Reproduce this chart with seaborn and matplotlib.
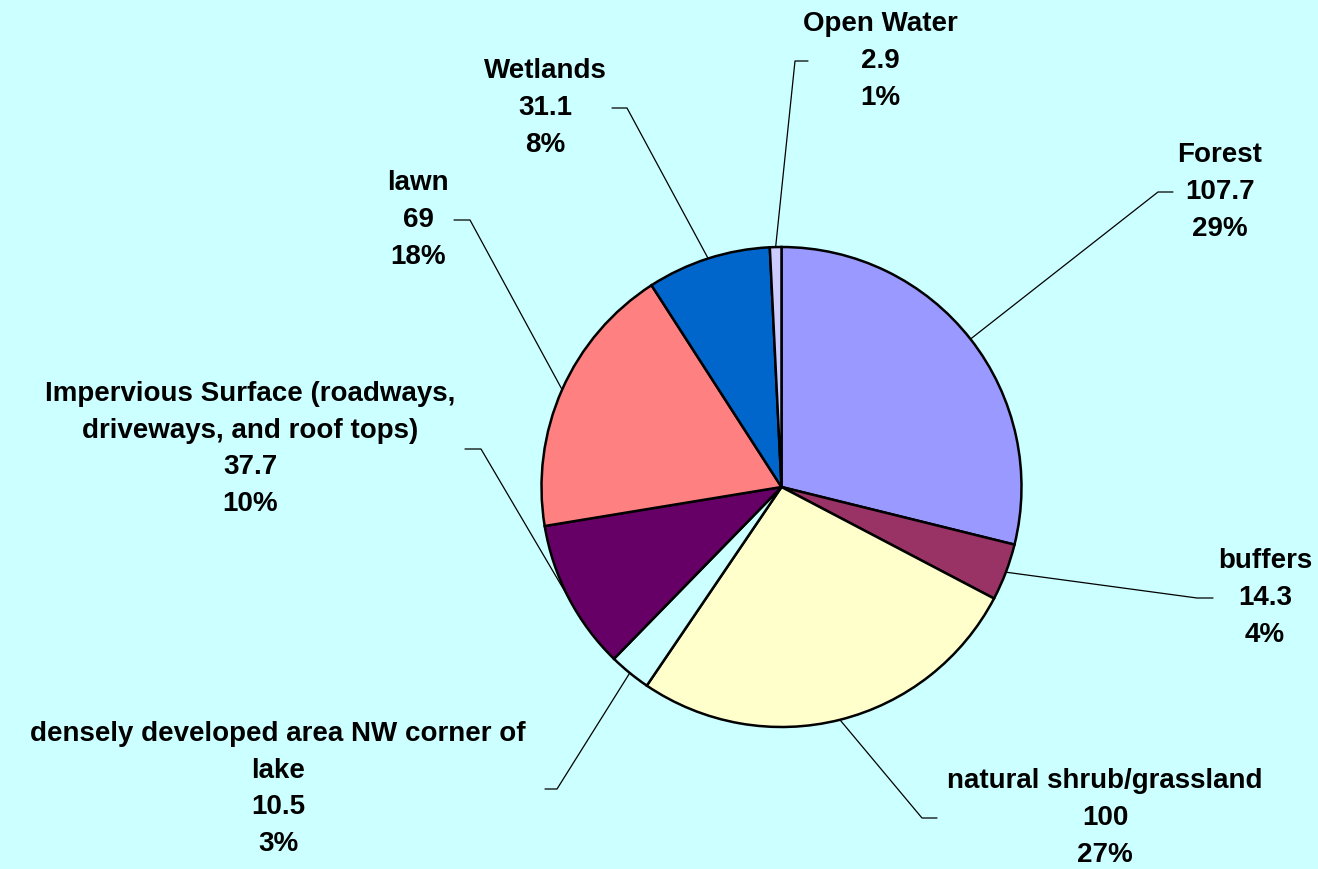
import matplotlib
matplotlib.use("Agg")
import matplotlib.pyplot as plt
import seaborn as sns
import numpy as np

categories = ["Forest", "buffers", "natural shrub/grassland",
              "densely developed area NW corner of\nlake",
              "Impervious Surface (roadways,\ndriveways, and roof tops)",
              "lawn", "Wetlands", "Open Water"]
values = [107.7, 14.3, 100, 10.5, 37.7, 69, 31.1, 2.9]
colors = ["#9999FF", "#993366", "#FFFFCC", "#CCFFFF",
          "#660066", "#FF8080", "#0066CC", "#CCCCFF"]

# label placement (pixel coords of text centre, elbow x, horizontal end x)
label_pos = [(1220, 192), (1265, 598), (1105, 818), (278, 789),
             (250, 449), (418, 220), (545, 108), (880, 61)]
elbow_x = [1158, 1197, 922, 557, 481, 470, 627, 795]
hend_x = [1173, 1213, 937, 545, 465, 454, 612, 808]

sns.set_theme(style="white")
plt.rcParams['font.family'] = ['Liberation Sans', 'DejaVu Sans']

W, H = 1318, 869
BG = "#CCFFFF"
fig = plt.figure(figsize=(W / 100, H / 100), dpi=100, facecolor=BG)
cx, cy, R = 781.5, 487, 240
ax = fig.add_axes([(cx - R) / W, (H - cy - R) / H, 2 * R / W, 2 * R / H])
ax.set_facecolor(BG)
ax.axis("off")

wedges, _ = ax.pie(values, colors=colors, startangle=90, counterclock=False,
                   radius=1.0,
                   wedgeprops=dict(edgecolor="black", linewidth=1.8))
ax.set_xlim(-1, 1)
ax.set_ylim(-1, 1)
ax.set_aspect("equal")

total = sum(values)


def to_data(px, py):
    return (px - cx) / R, (cy - py) / R


for i, w in enumerate(wedges):
    mid = np.deg2rad((w.theta1 + w.theta2) / 2)
    ex, ey = np.cos(mid), np.sin(mid)
    lx, ly = to_data(*label_pos[i])
    bx, _ = to_data(elbow_x[i], 0)
    hx, _ = to_data(hend_x[i], 0)
    ax.plot([ex, bx, hx], [ey, ly, ly], color="black", lw=0.9,
            clip_on=False, zorder=1)
    pct = round(values[i] / total * 100)
    txt = f"{categories[i]}\n{values[i]:g}\n{pct}%"
    ax.text(lx, ly, txt, ha="center", va="center", fontsize=20,
            fontweight="bold", linespacing=1.53, clip_on=False, color="black")

fig.savefig("out.png", dpi=100, facecolor=BG)
